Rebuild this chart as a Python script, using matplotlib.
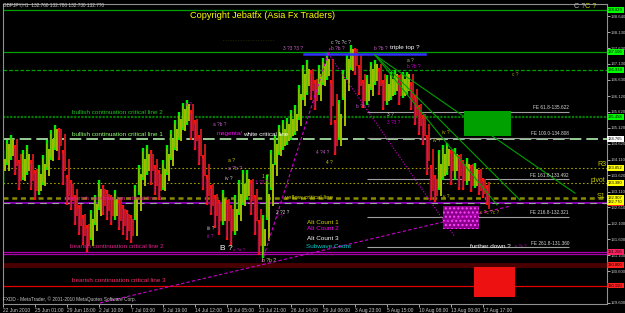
import matplotlib
matplotlib.use("Agg")
import matplotlib.pyplot as plt
import matplotlib.transforms as mtransforms
from matplotlib.patches import Rectangle

plt.rcParams['font.family'] = ['Liberation Sans', 'DejaVu Sans']

# ---------------- data (GBPJPY H1, sampled every 8 hours) ----------------
highs = [134.42, 134.73, 134.89, 134.58, 134.10, 134.42, 134.58, 134.10, 133.79, 133.95,
         134.26, 134.73, 135.05, 135.21, 135.11, 134.42, 133.63, 133.47, 133.00, 132.69,
         132.37, 132.06, 132.53, 133.00, 133.47, 133.32, 133.16, 133.00, 133.16, 132.84,
         132.69, 132.53, 132.37, 133.32, 133.95, 134.48, 134.58, 134.42, 133.95, 133.79,
         134.10, 134.58, 135.05, 135.36, 135.62, 135.90, 135.99, 135.68, 135.36, 134.89,
         134.26, 133.63, 133.32, 133.00, 132.84, 133.16, 132.84, 132.69, 133.00, 133.47,
         133.79, 133.79, 133.47, 133.00, 132.21, 132.37, 133.63, 134.42, 134.89, 135.21,
         135.36, 135.43, 135.68, 135.84, 136.47, 137.10, 137.25, 136.94, 136.62, 137.10,
         137.32, 137.47, 136.62, 135.36, 135.99, 136.94, 137.41, 137.73, 137.63, 137.10,
         136.62, 136.78, 137.19, 137.25, 137.00, 136.62, 136.78, 136.88, 136.94, 136.78,
         136.88, 136.88, 136.56, 136.15, 135.84, 135.52, 134.89, 133.95, 133.63, 134.42,
         134.58, 134.64, 134.42, 134.48, 134.26, 134.10, 134.17, 133.95, 134.01, 133.79,
         133.54, 133.32]
lows = [133.32, 133.95, 134.10, 133.63, 133.16, 133.47, 133.63, 133.16, 132.84, 133.00,
        133.32, 133.79, 134.10, 134.42, 134.10, 133.32, 132.69, 132.53, 132.06, 131.74,
        131.43, 131.21, 131.58, 132.06, 132.53, 132.37, 132.21, 132.06, 132.21, 131.90,
        131.74, 131.58, 131.49, 132.21, 133.00, 133.47, 133.63, 133.32, 133.00, 132.84,
        133.16, 133.63, 134.10, 134.42, 134.73, 135.05, 135.21, 134.73, 134.42, 133.95,
        133.16, 132.69, 132.37, 131.96, 131.74, 132.06, 131.58, 131.43, 131.74, 132.37,
        132.69, 132.84, 132.37, 131.74, 131.11, 131.02, 132.21, 133.16, 133.95, 134.26,
        134.42, 134.58, 134.73, 134.89, 135.36, 135.99, 136.15, 135.99, 135.68, 136.15,
        136.47, 136.62, 135.21, 134.26, 134.73, 135.99, 136.62, 136.94, 136.78, 136.15,
        135.74, 135.84, 136.31, 136.47, 136.15, 135.68, 135.84, 135.99, 136.15, 135.84,
        136.06, 136.15, 135.68, 135.21, 134.89, 134.58, 133.63, 132.84, 132.78, 133.16,
        133.47, 133.63, 133.32, 133.47, 133.16, 133.16, 133.32, 133.10, 133.22, 133.00,
        132.91, 132.69]
closes = [133.95, 134.42, 134.58, 134.10, 133.63, 133.95, 134.10, 133.63, 133.32, 133.47,
          133.79, 134.26, 134.58, 134.89, 134.73, 133.95, 133.16, 133.00, 132.53, 132.21,
          131.90, 131.58, 132.06, 132.53, 133.00, 132.84, 132.69, 132.53, 132.69, 132.37,
          132.21, 132.06, 131.90, 132.69, 133.47, 133.95, 134.10, 133.95, 133.47, 133.32,
          133.63, 134.10, 134.58, 134.89, 135.21, 135.52, 135.68, 135.21, 134.89, 134.42,
          133.79, 133.16, 132.84, 132.53, 132.37, 132.69, 132.37, 132.06, 132.37, 132.84,
          133.16, 133.32, 133.00, 132.37, 131.58, 131.74, 132.84, 133.79, 134.42, 134.73,
          134.89, 135.05, 135.21, 135.36, 135.99, 136.62, 136.78, 136.47, 136.15, 136.62,
          136.94, 137.10, 135.99, 134.73, 135.36, 136.47, 137.10, 137.41, 137.25, 136.62,
          136.15, 136.31, 136.78, 136.94, 136.62, 136.15, 136.31, 136.47, 136.62, 136.31,
          136.47, 136.62, 136.15, 135.68, 135.36, 135.05, 134.26, 133.32, 133.16, 133.79,
          134.10, 134.26, 133.95, 134.10, 133.79, 133.63, 133.79, 133.47, 133.63, 133.32,
          133.22, 132.77]
sample_hours = 8  # one sample every 8 hourly bars

xtick_hours = [0, 64, 128, 192, 256, 320, 384, 448, 512, 576, 640, 704, 768, 832, 896, 960]
xtick_labels = ["22 Jun 2010", "25 Jun 01:00", "29 Jun 18:00", "2 Jul 10:00", "7 Jul 03:00",
                "9 Jul 19:00", "14 Jul 12:00", "19 Jul 05:00", "21 Jul 21:00", "26 Jul 14:00",
                "29 Jul 06:00", "3 Aug 23:00", "5 Aug 15:00", "10 Aug 08:00", "13 Aug 00:00",
                "17 Aug 17:00"]
ytick_values = [138.640, 138.130, 137.630, 137.130, 136.630, 136.120, 135.620, 135.120,
                134.620, 134.110, 133.620, 133.110, 132.610, 132.100, 131.600, 131.100,
                130.600, 129.600]

# horizontal levels: (price, color, linestyle, linewidth, axis box color)
levels = [
    (138.829, '#00a000', '-', 0.9, '#00ff00'),
    (137.506, '#00a000', '-', 0.9, '#00ff00'),
    (136.939, '#00a000', (0, (3, 1.5)), 0.9, '#00ff00'),
    (135.458, '#007a00', (0, (1, 0.6)), 1.6, '#00ff00'),
    (134.765, '#b0f0b0', (0, (7, 3)), 1.2, '#ffffff'),
    (133.852, '#a0a000', (0, (1.5, 2)), 0.8, '#ffff00'),
    (133.380, '#a0a000', (0, (1.5, 2)), 0.8, '#ffff00'),
    (132.907, '#8a8a00', (0, (2, 1.5)), 1.8, '#ffff00'),
    (132.750, '#9900cc', '-', 1.2, '#ff2020'),
    (131.206, '#aa00aa', '-', 0.9, '#ff2060'),
    (131.140, '#aa00aa', '-', 0.9, None),
    (130.800, '#4a0000', '-', 3.5, '#ff2020'),
    (130.150, '#e00000', '-', 0.9, '#ff2020'),
]
bid_price = 132.770

# Fibonacci expansion levels
fe_ratios = ["61.8", "100.0", "161.8", "216.8", "261.8"]
fe_prices = [135.622, 134.808, 133.492, 132.321, 131.360]
fe_start_hour, fe_end_hour = 728, 1132

# rectangles: (hour0, hour1, price_low, price_high, face, hatch)
zones = [
    (922, 1016, 134.86, 135.65, '#00a000', None),
    (880, 952, 131.93, 132.65, '#8a008a', '....'),
    (942, 1024, 129.79, 130.73, '#ee1111', None),
]

# trend lines: (hour0, price0, hour1, price1, color, style, width)
trendlines = [
    (602, 137.44, 844, 137.44, '#3030ff', '-', 1.8),
    (194, 129.60, 1014, 132.65, '#cc00cc', (0, (3, 2)), 0.8),
    (518, 130.89, 654, 137.63, '#cc00cc', (0, (3, 2)), 0.8),
    (648, 137.51, 904, 131.68, '#cc00cc', (0, (1, 1.5)), 0.8),
    (744, 137.41, 988, 132.69, '#00a000', '-', 0.8),
    (744, 137.41, 1034, 132.84, '#00a000', '-', 0.8),
    (744, 137.41, 1144, 133.06, '#00a000', '-', 0.8),
]

# ---------------- figure ----------------
W, H = 625, 313
fig = plt.figure(figsize=(W / 100, H / 100), dpi=100, facecolor='black')
ax = fig.add_axes([3 / W, (H - 304) / H, 604 / W, 300 / H], facecolor='black')
ax.set_xlim(0, 1208)
ax.set_ylim(129.568, 139.018)

for sp in ax.spines.values():
    sp.set_color('#909090')
    sp.set_linewidth(0.8)

# levels
for price, col, ls, lw, box in levels:
    ax.axhline(price, color=col, linestyle=ls, linewidth=lw, zorder=1)
ax.axhline(132.750, color='#a0a0a0', linestyle=(0, (6, 5)), linewidth=0.8, zorder=1)

# FE lines
for r, p in zip(fe_ratios, fe_prices):
    ax.hlines(p, fe_start_hour, fe_end_hour, color='#a0a0a0', linewidth=0.8, zorder=2)
    ax.text(fe_end_hour, p + 0.05, f"FE {r}-{p:.3f}", color='#d8d8d8', fontsize=3.4,
            ha='right', va='bottom', zorder=6)

# zones
for h0, h1, p0, p1, fc, hatch in zones:
    ax.add_patch(Rectangle((h0, p0), h1 - h0, p1 - p0, facecolor=fc,
                           edgecolor='#ff44ff' if hatch else fc, hatch=hatch,
                           linewidth=0, zorder=2))

# price bars
xs = [k * sample_hours for k in range(len(closes))]
opens = [closes[0]] + closes[:-1]
for x, o, h, l, c in zip(xs, opens, highs, lows, closes):
    up = c >= o
    ax.vlines(x, l, h, color='#00ee00' if up else '#ff1010', linewidth=1.7, zorder=3)
    ax.vlines(x + 3.5, min(o, c) - 0.2, max(o, c) + 0.2,
              color='#a8c000' if up else '#c81818', linewidth=1.4, zorder=3)
    ax.vlines(x - 1.5, l + 0.1, h - 0.1, color='#8ac400' if up else '#a01040',
              linewidth=0.6, zorder=3)

# trend lines
for h0, p0, h1, p1, col, ls, lw in trendlines:
    ax.plot([h0, h1], [p0, p1], color=col, linestyle=ls, linewidth=lw, zorder=4)

# ---------------- axes ticks ----------------
ax.yaxis.tick_right()
ax.set_yticks(ytick_values)
ax.set_yticklabels([f"{v:.3f}" for v in ytick_values])
ax.set_xticks(xtick_hours)
ax.set_xticklabels(xtick_labels, ha='left')
ax.tick_params(axis='both', colors='#c8c8c8', length=2, width=0.6, pad=0.8)
ax.tick_params(axis='y', labelsize=3.1)
ax.tick_params(axis='x', labelsize=3.5)

# value boxes on right axis
btf = mtransforms.blended_transform_factory(ax.transAxes, ax.transData)
for price, col, ls, lw, box in levels:
    if box:
        ax.text(1.002, price, f"{price:.3f}", transform=btf, fontsize=3.0, color='black',
                va='center', ha='left', clip_on=False, zorder=10,
                bbox=dict(boxstyle='square,pad=0.2', fc=box, ec='none'))
ax.text(1.002, bid_price, f"{bid_price:.3f}", transform=btf, fontsize=3.0, color='black',
        va='center', ha='left', clip_on=False, zorder=10,
        bbox=dict(boxstyle='square,pad=0.2', fc='#ffff00', ec='none'))


# ---------------- texts (placed in pixel-like axes fractions) ----------------
def T(xp, yp, s, color, size=3.6, ha='left', weight='normal'):
    ax.text((xp - 3) / 604, (304 - yp) / 300, s, transform=ax.transAxes, color=color,
            fontsize=size, ha=ha, va='center', fontweight=weight, zorder=8, clip_on=False)


T(3, 5, "GBPJPY,H1  132.760 132.780 132.730 132.770", '#d0d0d0', 3.4)
T(262, 16, "Copyright Jebatfx (Asia Fx Traders)", '#ffff00', 6.6, 'center')
T(574, 6, "C ?", '#c0c0c0', 5.2)
T(585, 6, "C ?", '#cccc00', 5.2)
T(223, 40, "- - - - - - - - - - - - - - - - - - - - -", '#808000', 3)

T(72, 113, "bullish continuation critical line 2", '#20c020', 4.6)
T(72, 134, "bullish continuation critical line 1", '#90ff70', 4.6)
T(217, 134, "magenta/", '#ff00ff', 4.5)
T(243, 134, "white critical line", '#ffffff', 4.5)
T(285, 198, "yellow critical line", '#d0d000', 4.5)
T(68, 199, "bearish continuation critical line 1", '#e0208a', 4.6)
T(70, 247, "bearish continuation critical line 2", '#e0208a', 4.6)
T(72, 281, "bearish continuation critical line 3", '#ff2a6a', 4.6)

T(307, 222, "Alt Count 1", '#d0d000', 4.6)
T(307, 229, "Alt Count 2", '#ff00ff', 4.6)
T(307, 238, "Alt Count 3", '#ffffff', 4.6)
T(306, 247, "Subwave Count", '#00c8c8', 4.6)

T(597, 164, "R3", '#c8c800', 5)
T(591, 181, "pivot", '#c8c800', 5)
T(597, 197, "S1", '#c8c800', 5)

T(470, 246, "further down ?", '#ffffff', 4.6)
T(515, 246, "c ?c ?", '#cc00cc', 3.2)
T(390, 48, "triple top ?", '#ffffff', 4.6)
T(220, 249, "B ?", '#ffffff', 6)
T(233, 250, "a ?a ?", '#cc00cc', 3.2)
T(3, 299, "FXDD - MetaTrader, \u00a9 2001-2010 MetaQuotes Software Corp.", '#c8c8c8', 3.4)

# wave labels
T(283, 48, "3 ?3 ?3 ?", '#cc66cc', 3.4)
T(331, 42, "c ?c ?c ?", '#d0d0d0', 3.6)
T(331, 49, "b ?b ?", '#cc66cc', 3.4)
T(374, 48, "b ?b ?", '#cc66cc', 3.4)
T(407, 61, "a ?", '#c0c080', 3.4)
T(407, 67, "b ?b ?", '#cc00cc', 3.4)
T(512, 75, "c ?", '#a0a000', 3.4)
T(185, 104, "a ?", '#cc00cc', 3.4)
T(213, 124, "a ?b ?", '#c060c0', 3.4)
T(228, 160, "a ?", '#d0d000', 3.6)
T(228, 168, "a ?b ?", '#c060c0', 3.6)
T(225, 178, "iv ?", '#d0d0d0', 3.4)
T(262, 177, "1 ?", '#d0d000', 3.4)
T(255, 183, "1 ?2 ?", '#cc00cc', 3.4)
T(316, 153, "4 ?4 ?", '#c060c0', 3.4)
T(326, 162, "4 ?", '#d0d000', 3.4)
T(356, 106, "b ?b ?", '#c060c0', 3.4)
T(387, 115, "3 ?", '#d0d0d0', 3.4)
T(387, 122, "3 ?3 ?", '#cc00cc', 3.4)
T(276, 212, "2 ?2 ?", '#d0d0d0', 3.4)
T(276, 216, "2 ?", '#cc00cc', 3.4)
T(207, 229, "iii ?", '#d0d0d0', 3.4)
T(207, 237, "ii ?", '#cc00cc', 3.4)
T(262, 261, "b ?b ?", '#d0d080', 3.6)
T(480, 213, "c ?c ?c ?", '#c0a000', 3.4)
T(442, 132, "iv ?", '#c0c000', 3.4)
T(433, 140, "iv ?", '#c0c000', 3.4)
T(443, 196, "v ?", '#c0c000', 3.4)

fig.savefig("out.png", dpi=100, facecolor='black')
